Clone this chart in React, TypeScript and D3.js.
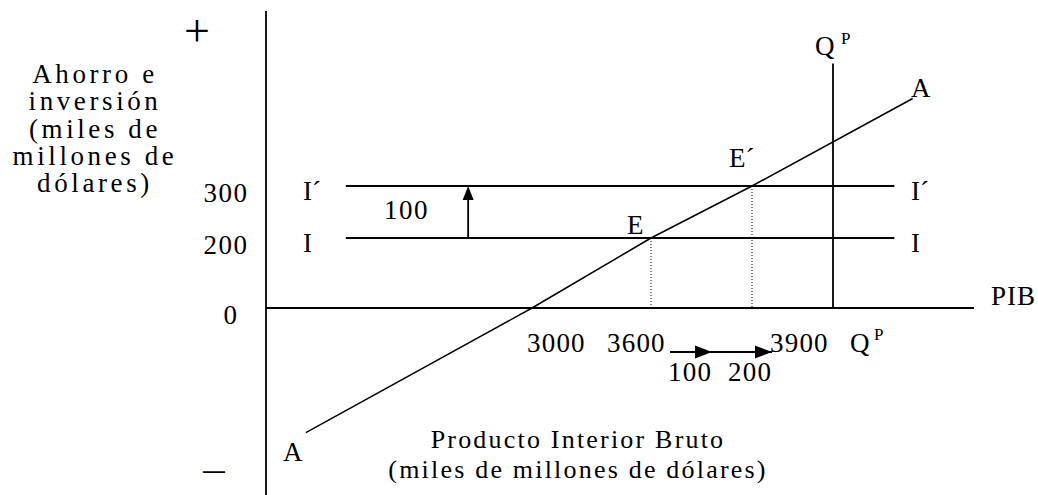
import React from "react";
import * as d3 from "d3";

// ---- data ----
const gdpTicks = [3000, 3600, 3900];
const gdpTickLabels = ["3000", "3600", "3900"];
const yTicks = [0, 200, 300];
const yTickLabels = ["0", "200", "300"];
const investmentOld = 200;
const investmentNew = 300;
const investmentShift = 100;
const savingsGdp = [2150, 3000, 3600, 3900, 4400];
const savingsValues = [-200, 0, 200, 300, 550];
const equilibriumGdp = [3600, 3900];
const equilibriumS = [200, 300];
const equilibriumLabels = ["E", "E´"];
const potentialGdp = 4140;
const multiplierSteps = ["100", "200"];
const yTitle = ["Ahorro e", "inversión", "(miles de", "millones de", "dólares)"];
const xTitle = ["Producto Interior Bruto", "(miles de millones de dólares)"];

// piecewise scales (schematic diagram, not drawn to scale)
const W = 1038;
const H = 495;
const x = d3
  .scaleLinear()
  .domain([2000, 3000, 3600, 3900, 4140, 4600])
  .range([266, 532, 651, 752, 833, 974]);
const y = d3
  .scaleLinear()
  .domain([-300, 0, 200, 300, 800])
  .range([495, 308, 238, 186, 11]);

const FONT = "'Liberation Serif', 'Times New Roman', serif";

export default function App() {
  const savingsPts: [number, number][] = savingsGdp.map((g, i) => [x(g), y(savingsValues[i])]);
  const line = d3.line();
  const iStart = x(2300);
  const iEnd = x(4340);
  const arrowX = x(2760);
  const axisY = y(0);
  const stepY = axisY + 44;
  const s1 = x(3600) + 19;
  const s2 = s1 + 42;
  const s3 = s2 + 60;
  const tickOffsets = [-5, -44, 18];
  const tri = (tipX: number, tipY: number) =>
    `M${tipX},${tipY} L${tipX - 17},${tipY - 6.5} L${tipX - 17},${tipY + 6.5} Z`;
  const txt = { fontFamily: FONT, fontSize: 27, fill: "#000" } as const;

  return (
    <svg width={W} height={H} style={{ display: "block", position: "absolute", left: 0, top: 0 }}>
      <rect width={W} height={H} fill="#fff" />
      {/* axes */}
      <line x1={x(2000)} y1={y(800)} x2={x(2000)} y2={y(-300)} stroke="#000" strokeWidth={1.8} />
      <line x1={x(2000)} y1={axisY} x2={x(4600)} y2={axisY} stroke="#000" strokeWidth={1.8} />
      {/* potential output */}
      <line x1={x(potentialGdp)} y1={y(650)} x2={x(potentialGdp)} y2={axisY} stroke="#000" strokeWidth={1.8} />
      {/* investment lines */}
      {[investmentOld, investmentNew].map((v) => (
        <line key={v} x1={iStart} y1={y(v)} x2={iEnd} y2={y(v)} stroke="#000" strokeWidth={1.8} />
      ))}
      {/* shift arrow */}
      <line x1={arrowX} y1={y(investmentOld)} x2={arrowX} y2={y(investmentNew) + 10} stroke="#000" strokeWidth={1.8} />
      <path
        d={`M${arrowX},${y(investmentNew)} L${arrowX - 5.5},${y(investmentNew) + 14} L${arrowX + 5.5},${y(investmentNew) + 14} Z`}
        fill="#000"
      />
      {/* savings line */}
      <path d={line(savingsPts) || ""} fill="none" stroke="#000" strokeWidth={1.5} />
      {/* dotted lines from equilibria */}
      {equilibriumGdp.map((g, i) => (
        <line
          key={g}
          x1={x(g)}
          y1={y(equilibriumS[i])}
          x2={x(g)}
          y2={axisY}
          stroke="#000"
          strokeWidth={1}
          strokeDasharray="1,2"
        />
      ))}
      {/* multiplier arrows */}
      <line x1={s1} y1={stepY} x2={s3} y2={stepY} stroke="#000" strokeWidth={1.8} />
      <path d={tri(s2, stepY)} fill="#000" />
      <path d={tri(s3, stepY)} fill="#000" />
      <text x={668} y={381} {...txt} letterSpacing={1.2}>{multiplierSteps[0]}</text>
      <text x={728} y={381} {...txt} letterSpacing={1.2}>{multiplierSteps[1]}</text>

      {/* y tick labels */}
      {yTicks.map((v, i) => (
        <text key={v} x={v === 0 ? 231 : 226} y={y(v) + 16} textAnchor="middle" {...txt} letterSpacing={1.5}>
          {yTickLabels[i]}
        </text>
      ))}
      {/* x tick labels */}
      {gdpTicks.map((g, i) => (
        <text key={g} x={x(g) + tickOffsets[i]} y={352} {...txt} letterSpacing={1.2}>
          {gdpTickLabels[i]}
        </text>
      ))}
      {/* Q^P bottom */}
      <text x={850} y={352} {...txt}>Q</text>
      <text x={874} y={340} {...txt} fontSize={17}>P</text>
      {/* Q^P top */}
      <text x={815} y={55} {...txt}>Q</text>
      <text x={841} y={44} {...txt} fontSize={17}>P</text>
      {/* PIB */}
      <text x={991} y={305} {...txt} letterSpacing={1}>PIB</text>

      {/* I labels */}
      <text x={303} y={y(investmentNew) + 14} {...txt}>I´</text>
      <text x={303} y={y(investmentOld) + 14} {...txt}>I</text>
      <text x={911} y={y(investmentNew) + 14} {...txt}>I´</text>
      <text x={911} y={y(investmentOld) + 14} {...txt}>I</text>
      <text x={384} y={219} {...txt} letterSpacing={1.5}>{String(investmentShift)}</text>

      {/* equilibrium labels */}
      <text x={627} y={234} {...txt}>{equilibriumLabels[0]}</text>
      <text x={729} y={167} {...txt}>{equilibriumLabels[1]}</text>

      {/* A labels */}
      <text x={911} y={97} {...txt}>A</text>
      <text x={283} y={461} {...txt}>A</text>

      {/* + and − */}
      <text x={197} y={46} textAnchor="middle" {...txt} fontSize={46}>+</text>
      <text
        x={0}
        y={0}
        textAnchor="middle"
        {...txt}
        fontSize={38}
        transform="translate(214,485) scale(1.25,1)"
      >
        −
      </text>

      {/* y axis title */}
      {yTitle.map((t, i) => (
        <text key={t} x={95} y={83 + i * 27.3} textAnchor="middle" {...txt} fontSize={27} letterSpacing={3.6}>
          {t}
        </text>
      ))}
      {/* x axis title */}
      {xTitle.map((t, i) => (
        <text key={t} x={578} y={448 + i * 30} textAnchor="middle" {...txt} fontSize={26} letterSpacing={2.2}>
          {t}
        </text>
      ))}
    </svg>
  );
}
